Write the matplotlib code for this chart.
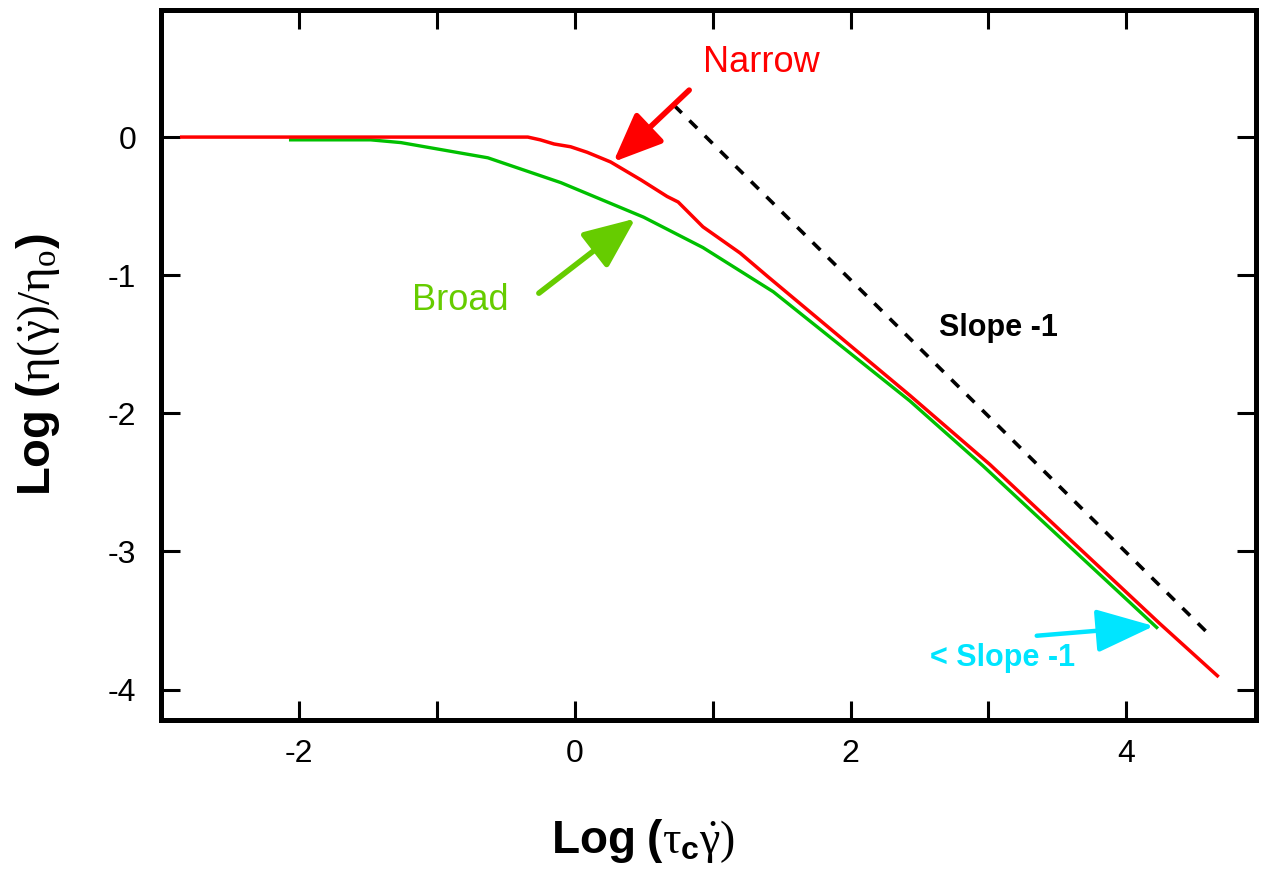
import numpy as np
import matplotlib
matplotlib.use("Agg")
import matplotlib.pyplot as plt

# curves (log10 units)
narrow_x = [-2.85, -0.34, -0.25, -0.15, -0.03, 0.09, 0.26, 0.48, 0.67, 0.75,
            0.82, 0.93, 1.20, 1.40, 2.43, 3.01, 4.24, 4.66]
narrow_y = [0.0, 0.0, -0.02, -0.05, -0.07, -0.11, -0.18, -0.31, -0.43, -0.47,
            -0.54, -0.65, -0.84, -1.01, -1.87, -2.37, -3.52, -3.90]

broad_x = [-2.06, -1.48, -1.26, -0.63, -0.10, 0.50, 0.93, 1.44, 2.43, 2.96, 4.22]
broad_y = [-0.02, -0.02, -0.04, -0.15, -0.33, -0.58, -0.80, -1.12, -1.91, -2.38, -3.55]

slope_x = [0.72, 4.62]
slope_y = [0.23, -3.62]

xtick_vals = [-3, -2, -1, 0, 1, 2, 3, 4]
xtick_labels = ["", "-2", "", "0", "", "2", "", "4"]
ytick_vals = [0, -1, -2, -3, -4]
ytick_labels = ["0", "-1", "-2", "-3", "-4"]

plt.rcParams["font.family"] = ["Liberation Sans", "DejaVu Sans"]
plt.rcParams["mathtext.fontset"] = "custom"
plt.rcParams["mathtext.rm"] = "Liberation Serif"
plt.rcParams["mathtext.it"] = "Liberation Serif"
plt.rcParams["mathtext.bf"] = "Liberation Sans:bold"

fig = plt.figure(figsize=(12.63, 8.69), dpi=100)
ax = fig.add_axes([161 / 1263, 1 - 720 / 869, 1095 / 1263, 710 / 869])

red = "#ff0000"
green = "#00c000"
lime = "#66cc00"
cyan = "#00e5ff"

ax.plot(slope_x, slope_y, color="black", lw=2.6, dashes=(3, 3))
ax.plot(broad_x, broad_y, color=green, lw=2.4)
ax.plot(narrow_x, narrow_y, color=red, lw=2.5)

# annotations
ax.text(1.35, 0.54, "Narrow", color=red, fontsize=26, ha="center", va="center")
ax.annotate("", xy=(0.28, -0.18), xytext=(0.83, 0.34),
            arrowprops=dict(arrowstyle="-|>,head_length=1.0,head_width=0.42",
                            mutation_scale=30, color=red, lw=4,
                            shrinkA=0, shrinkB=0))
ax.text(-0.83, -1.18, "Broad", color=lime, fontsize=26, ha="center", va="center")
ax.annotate("", xy=(0.44, -0.59), xytext=(-0.26, -1.13),
            arrowprops=dict(arrowstyle="-|>,head_length=1.05,head_width=0.45",
                            mutation_scale=30, color=lime, lw=4,
                            shrinkA=0, shrinkB=0))
ax.text(3.07, -1.38, "Slope -1", color="black", fontsize=22, fontweight="bold",
        ha="center", va="center")
ax.text(3.10, -3.77, "< Slope -1", color=cyan, fontsize=22, fontweight="bold",
        ha="center", va="center")
ax.annotate("", xy=(4.20, -3.54), xytext=(3.35, -3.61),
            arrowprops=dict(arrowstyle="-|>,head_length=1.2,head_width=0.45",
                            mutation_scale=30, color=cyan, lw=3.2,
                            shrinkA=0, shrinkB=0))

ax.set_xlim(-3.0, 4.94)
ax.set_ylim(-4.22, 0.92)
ax.set_xticks(xtick_vals)
ax.set_xticklabels(xtick_labels)
ax.set_yticks(ytick_vals)
ax.set_yticklabels(ytick_labels)
ax.tick_params(direction="in", length=14, width=2.2, labelsize=23,
               top=True, right=True)
ax.tick_params(axis="x", pad=14)
ax.tick_params(axis="y", pad=18)
for s in ax.spines.values():
    s.set_linewidth(3.6)

ax.set_xlabel(r"$\mathbf{Log\ (}\tau_{\mathbf{c}}\dot{\gamma})$", fontsize=33)
ax.xaxis.set_label_coords(0.44, -0.136)
ax.set_ylabel(r"$\mathbf{Log\ (}\eta(\dot{\gamma})/\eta_{\mathrm{o}}\mathbf{)}$", fontsize=34)
ax.yaxis.set_label_coords(-0.09, 0.5)

fig.savefig("out.png", dpi=100)
